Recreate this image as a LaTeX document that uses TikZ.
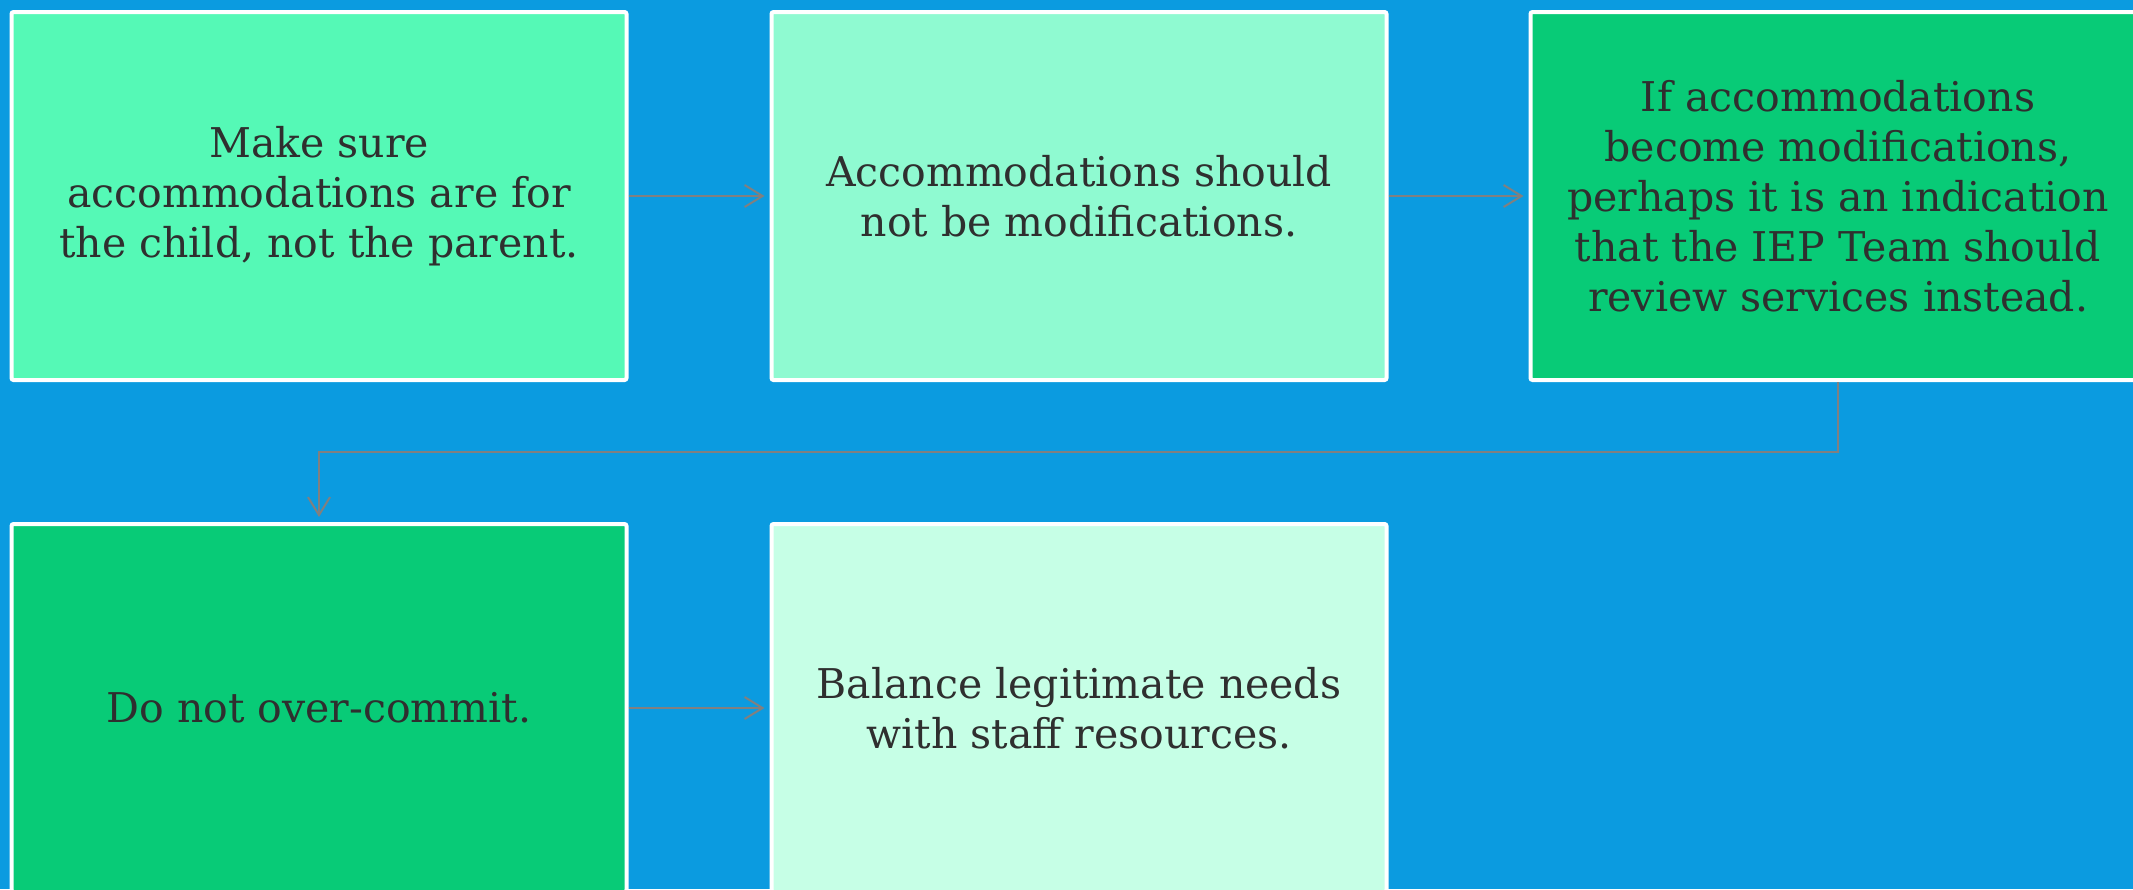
\documentclass[tikz,border=0pt]{standalone}
\usepackage{fontspec}
\setmainfont{DejaVu Serif}
\usetikzlibrary{arrows.meta}
\definecolor{bgblue}{HTML}{0B9BE0}
\definecolor{cA}{HTML}{55F9B6}
\definecolor{cB}{HTML}{8FFAD1}
\definecolor{cC}{HTML}{08CB77}
\definecolor{cD}{HTML}{C6FFE6}
\definecolor{txt}{HTML}{2F2F2F}
\definecolor{conncol}{HTML}{808080}
\tikzset{
  box/.style={draw=white, line width=4pt, rounded corners=2pt, minimum width=615pt, minimum height=368pt,
    inner sep=0pt, align=center, text=txt, font=\fontsize{41}{50}\selectfont},
  conn/.style={draw=conncol, line width=2pt, -{Straight Barb[length=18pt,width=22pt,line width=2pt]}, shorten >=5pt}
}
\begin{document}
\begin{tikzpicture}[x=1pt,y=1pt]
\fill[bgblue] (0,0) rectangle (2133,-889);
\useasboundingbox (0,0) rectangle (2133,-889);
\node[box, fill=cA] (b1) at (319,-196) {Make sure\\accommodations are for\\the child, not the parent.};
\node[box, fill=cB] (b2) at (1079,-196) {Accommodations should\\not be modifications.};
\node[box, fill=cC] (b3) at (1838,-196) {If accommodations\\become modifications,\\perhaps it is an indication\\that the IEP Team should\\review services instead.};
\node[box, fill=cC] (b4) at (319,-708) {Do not over-commit.};
\node[box, fill=cD] (b5) at (1079,-708) {Balance legitimate needs\\with staff resources.};
\coordinate (m1) at (1838,-452);
\draw[conn] (b1.east) -- (b2.west);
\draw[conn] (b2.east) -- (b3.west);
\draw[conn] (b3.south) -- (m1) -| (b4.north);
\draw[conn] (b4.east) -- (b5.west);
\end{tikzpicture}
\end{document}
